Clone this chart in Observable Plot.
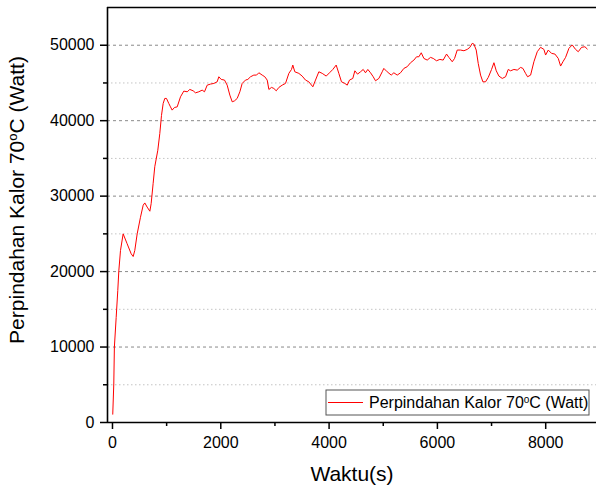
<!DOCTYPE html>
<html><head><meta charset="utf-8">
<script src="https://cdn.jsdelivr.net/npm/d3@7"></script>
<script src="https://cdn.jsdelivr.net/npm/@observablehq/plot@0.6"></script>
<style>
body{margin:0;background:#fff;}
svg{font-family:"Liberation Sans",Arial,sans-serif;}
</style>
</head><body><div id="chart"></div>
<script>
const time = [5,24,35,68,98,117,148,197,270,345,382,412,456,517,567,597,640,690,714,751,781,837,874,905,936,966,997,1040,1071,1102,1145,1195,1256,1317,1380,1428,1490,1533,1594,1656,1699,1749,1810,1872,1933,1964,2008,2069,2118,2167,2211,2254,2303,2352,2395,2456,2499,2549,2610,2660,2703,2765,2813,2857,2888,2937,2980,3024,3073,3134,3195,3257,3306,3330,3367,3441,3503,3565,3626,3700,3749,3811,3873,3947,4008,4069,4131,4180,4229,4291,4335,4377,4438,4476,4525,4580,4630,4672,4715,4765,4815,4857,4919,4981,5011,5073,5147,5196,5258,5319,5381,5442,5504,5566,5615,5658,5702,5750,5812,5873,5923,5984,6045,6107,6169,6212,6274,6317,6366,6428,6490,6551,6600,6643,6673,6717,6754,6797,6840,6889,6939,7000,7044,7087,7136,7198,7259,7308,7351,7413,7475,7536,7579,7628,7665,7721,7782,7844,7905,7967,7998,8047,8108,8170,8232,8275,8318,8367,8429,8490,8551,8601,8662,8724,8767];
const power = [1100,5100,10000,13900,17500,20100,22800,25000,23700,22360,22000,22800,25000,27200,28800,29100,28550,28000,29000,31700,33900,36080,38300,40700,42280,42950,42950,42280,41830,41400,41750,41830,43160,43920,43830,44140,43960,43690,43830,44050,43830,44710,44850,44940,45150,45820,45470,45380,44710,43390,42500,42630,42950,43830,44940,45380,45470,45820,46040,46040,46350,46040,45820,45380,44140,44410,44270,43960,44410,44710,44940,46270,46790,47370,46480,46270,45910,45380,45150,44490,45380,46480,46270,45910,46350,46790,47370,46270,45150,44940,44710,45380,45600,46610,46170,46480,46790,46350,46790,46350,45820,45290,45600,46480,46930,46480,46040,46350,46040,46350,46930,47150,47680,48030,48470,48470,49000,48250,48030,48390,48250,47940,48120,48030,48830,48390,47810,48250,49360,49360,49270,49450,49720,50250,50160,49360,47590,46040,45150,45150,45730,46790,47680,46610,45910,45600,45820,46790,46610,46790,46700,47060,46930,46270,45820,46040,47810,49140,49720,49450,48700,49360,48920,48830,48250,47240,47810,48390,49590,50040,49450,49140,49720,49800,49500];
const yMajor = [0,10000,20000,30000,40000,50000];
const yMinor = [5000,15000,25000,35000,45000];
const xMajor = [0,2000,4000,6000,8000];
const xMinor = [1000,3000,5000,7000];
const xDomain = [-92, 8938];
const yDomain = [0, 55000];
const seriesName = ["Perpindahan Kalor 70", "o", "C (Watt)"];
const xTitle = "Waktu(s)";

const data = time.map((t, i) => ({t, p: power[i]}));

const chart = Plot.plot({
  width: 596, height: 489,
  marginLeft: 107, marginRight: 0, marginTop: 7, marginBottom: 67,
  x: {domain: xDomain},
  y: {domain: yDomain},
  style: {fontFamily: "'Liberation Sans', Arial, sans-serif", fontSize: "16px", color: "#000", background: "#fff"},
  marks: [
    Plot.ruleY(yMinor, {stroke: "#c4c4c4", strokeDasharray: "1.5,2.5", strokeWidth: 1}),
    Plot.ruleY(yMajor.filter(d => d > 0), {stroke: "#8a8a8a", strokeDasharray: "3,3", strokeWidth: 1}),
    Plot.axisY(yMajor, {tickSize: 7, tickPadding: 6, fontSize: 16, label: null, tickFormat: d => String(d), strokeWidth: 1.5, strokeOpacity: 1}),
    Plot.axisY(yMinor, {tickSize: 4, tickFormat: () => "", label: null, strokeWidth: 1.5, strokeOpacity: 1}),
    Plot.axisX(xMajor, {tickSize: 7, tickPadding: 7, fontSize: 16, label: null, tickFormat: d => String(d), strokeWidth: 1.5, strokeOpacity: 1}),
    Plot.axisX(xMinor, {tickSize: 4, tickFormat: () => "", label: null, strokeWidth: 1.5, strokeOpacity: 1}),
    Plot.ruleX([xDomain[0]], {stroke: "#000", strokeWidth: 1.6}),
    Plot.ruleY([yDomain[0]], {stroke: "#000", strokeWidth: 1.6}),
    Plot.ruleY([yDomain[1]], {stroke: "#000", strokeWidth: 1.6}),
    Plot.line(data, {x: "t", y: "p", stroke: "#ff0000", strokeWidth: 1})
  ]
});

const svg = d3.select(chart);
// Y axis title
const yt = svg.append("text")
  .attr("transform", "translate(17,200) rotate(-90)")
  .attr("text-anchor", "middle").attr("dy", "0.35em")
  .attr("font-size", 21).attr("fill", "#000");
yt.append("tspan").text(seriesName[0]);
yt.append("tspan").attr("baseline-shift", "super").attr("font-size", 13).text(seriesName[1]);
yt.append("tspan").attr("baseline-shift", "0").text(seriesName[2]);
// X axis title
svg.append("text").attr("x", 352).attr("y", 481)
  .attr("text-anchor", "middle").attr("font-size", 21).attr("fill", "#000").text(xTitle);
// Legend
const lg = svg.append("g");
lg.append("rect").attr("x", 326).attr("y", 390).attr("width", 263).attr("height", 25)
  .attr("fill", "#fff").attr("stroke", "#555").attr("stroke-width", 1);
lg.append("line").attr("x1", 328).attr("x2", 363).attr("y1", 402.5).attr("y2", 402.5)
  .attr("stroke", "#ff0000").attr("stroke-width", 1);
const lt = lg.append("text").attr("x", 369).attr("y", 402.5).attr("dy", "0.35em")
  .attr("text-anchor", "start").attr("font-size", 16).attr("fill", "#000");
lt.append("tspan").text(seriesName[0]);
lt.append("tspan").attr("baseline-shift", "super").attr("font-size", 10).text(seriesName[1]);
lt.append("tspan").attr("baseline-shift", "0").text(seriesName[2]);

document.getElementById("chart").appendChild(chart);
</script>
</body></html>
